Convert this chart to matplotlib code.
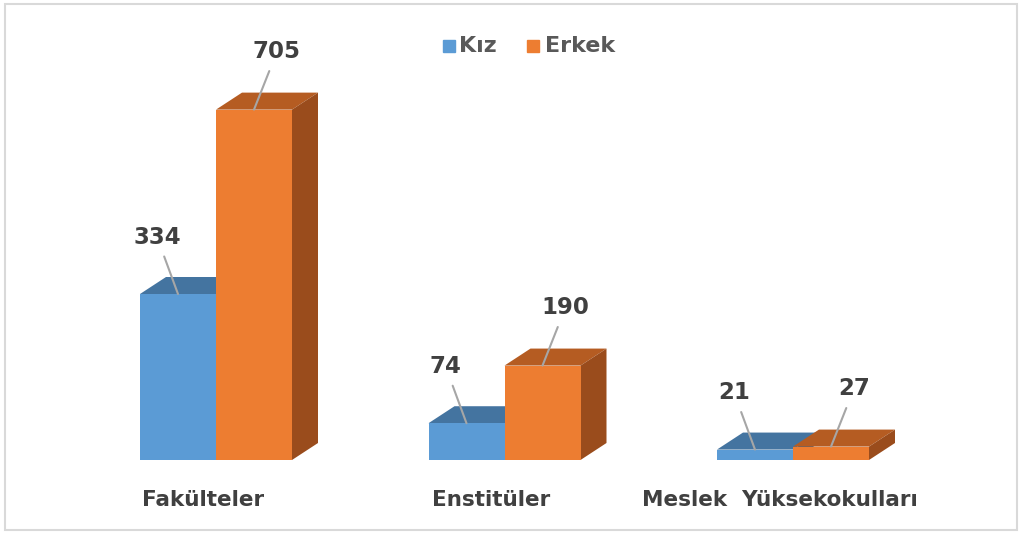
import numpy as np
import matplotlib.pyplot as plt
from matplotlib.patches import Polygon, Rectangle

categories = ["Fakülteler", "Enstitüler", "Meslek  Yüksekokulları"]
kiz = [334, 74, 21]
erkek = [705, 190, 27]
series_names = ["Kız", "Erkek"]

W, H = 1022, 533
fig = plt.figure(figsize=(W / 100, H / 100), dpi=100)
ax = fig.add_axes([0, 0, 1, 1])

# pixel scale of the plot area (px per unit)
px_x = 288.5
px_y = 0.497
ax.set_xlim(-216 / px_x, (W - 216) / px_x)
ax.set_ylim(-73 / px_y, (H - 73) / px_y)
ax.axis("off")

bw = 76 / px_x
dx = 26 / px_x   # depth of the 3D boxes
dy = 17 / px_y

colors = {
    "Kız": ("#5b9bd5", "#4474a0", "#3c6790"),
    "Erkek": ("#ed7d31", "#b55c22", "#9a4c1c"),
}

x = np.arange(len(categories))
text_col = "#404040"

for name, vals, shift, lbl_off in [("Kız", kiz, -bw / 2, (-21, 57)),
                                    ("Erkek", erkek, bw / 2, (23, 58))]:
    front, top, side = colors[name]
    bars = ax.bar(x + shift, vals, width=bw, color=front, zorder=3)
    for b, v in zip(bars, vals):
        x0, x1 = b.get_x(), b.get_x() + b.get_width()
        ax.add_patch(Polygon([(x0, v), (x1, v), (x1 + dx, v + dy), (x0 + dx, v + dy)],
                             closed=True, color=top, zorder=2, lw=0))
        ax.add_patch(Polygon([(x1, 0), (x1 + dx, dy), (x1 + dx, v + dy), (x1, v)],
                             closed=True, color=side, zorder=2, lw=0))
        ax.annotate(str(v), xy=((x0 + x1) / 2, v), xytext=lbl_off,
                    textcoords="offset pixels", ha="center", va="center",
                    fontsize=16.5, fontweight="bold", color=text_col,
                    arrowprops=dict(arrowstyle="-", color="#a6a6a6", lw=1.5,
                                    shrinkA=4, shrinkB=0),
                    zorder=6)

# category labels
for xi, c in zip(x, categories):
    ax.text(xi - 13 / px_x, -40 / px_y, c, ha="center", va="center",
            fontsize=15.5, fontweight="bold", color=text_col)

# legend
for name, lxs, tx in [("Kız", 443, 459), ("Erkek", 527, 545)]:
    fig.patches.append(Rectangle((lxs / W, (H - 52) / H), 12 / W, 12 / H,
                                 transform=fig.transFigure, color=colors[name][0]))
    fig.text(tx / W, (H - 46) / H, name, ha="left", va="center",
             fontsize=16, fontweight="bold", color="#595959")

# outer frame
fig.patches.append(Rectangle((5 / W, 3 / H), 1012 / W, 526 / H, transform=fig.transFigure,
                             fill=False, edgecolor="#d9d9d9", lw=1.5))

fig.savefig("out.png", dpi=100)
